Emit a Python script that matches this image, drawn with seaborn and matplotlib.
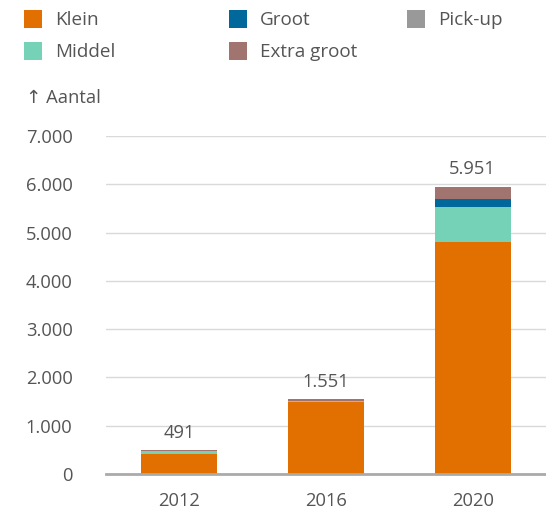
import numpy as np
import pandas as pd
import matplotlib
matplotlib.use("Agg")
import matplotlib.pyplot as plt
from matplotlib.patches import Rectangle
import seaborn as sns

years = ["2012", "2016", "2020"]
klein = [420, 1500, 4800]
middel = [55, 8, 725]
groot = [0, 3, 165]
pickup = [0, 0, 6]
extra_groot = [16, 40, 255]
totals = [491, 1551, 5951]

series = ["Klein", "Middel", "Groot", "Pick-up", "Extra groot"]
colors = {"Klein": "#E17000", "Middel": "#76D2B6", "Groot": "#01689B",
          "Pick-up": "#999999", "Extra groot": "#A27470"}

TXT = "#555555"
FS = 13.2


def main():
    sns.set_theme(style="white")
    plt.rcParams["font.family"] = ["Open Sans", "DejaVu Sans"]

    df = pd.DataFrame({"jaar": years, "Klein": klein, "Middel": middel,
                       "Groot": groot, "Pick-up": pickup,
                       "Extra groot": extra_groot})
    cum = df[series].cumsum(axis=1)

    fig = plt.figure(figsize=(5.46, 5.11), dpi=100)
    ax = fig.add_axes([0.194, 0.0724, 0.806, 0.6614])

    # draw cumulative totals from top down so each layer overlays the previous
    for s in reversed(series):
        sns.barplot(x=df["jaar"], y=cum[s], color=colors[s], width=0.52,
                    saturation=1, ax=ax, linewidth=0)

    for i, t in enumerate(totals):
        ax.text(i, t + 170, f"{t:,}".replace(",", "."), ha="center", va="bottom",
                fontsize=FS, color=TXT)

    ax.set_ylim(0, 7000)
    ax.set_xlim(-0.5, 2.5)
    ax.set_yticks(range(0, 7001, 1000))
    ax.set_yticklabels([f"{v:,}".replace(",", ".") for v in range(0, 7001, 1000)])
    ax.grid(axis="y", color="#d9d9d9", linewidth=1)
    ax.set_axisbelow(True)
    for sp in ["top", "right", "left"]:
        ax.spines[sp].set_visible(False)
    ax.spines["bottom"].set_color("#aaaaaa")
    ax.spines["bottom"].set_linewidth(2)
    ax.spines["bottom"].set_zorder(5)
    ax.tick_params(axis="y", length=0, pad=24, labelsize=FS, labelcolor=TXT)
    ax.tick_params(axis="x", length=0, pad=13, labelsize=FS, labelcolor=TXT)
    ax.set_xlabel("")
    ax.set_ylabel("")

    # legend
    W, H = 546, 511
    leg = [("Klein", 24, 19), ("Groot", 229, 19), ("Pick-up", 407, 19),
           ("Middel", 24, 51), ("Extra groot", 229, 51)]
    for name, x, y in leg:
        fig.add_artist(Rectangle((x / W, 1 - (y + 9) / H), 18 / W, 18 / H,
                                 transform=fig.transFigure,
                                 color=colors[name], linewidth=0))
        fig.text((x + 31) / W, 1 - (y + 1) / H, name, ha="left", va="center",
                 fontsize=13.6, color=TXT)

    fig.text(26 / W, 1 - 98 / H, "↑ Aantal", ha="left", va="center",
             fontsize=FS, color=TXT)

    fig.savefig("out.png", dpi=100)


if __name__ == "__main__":
    main()
